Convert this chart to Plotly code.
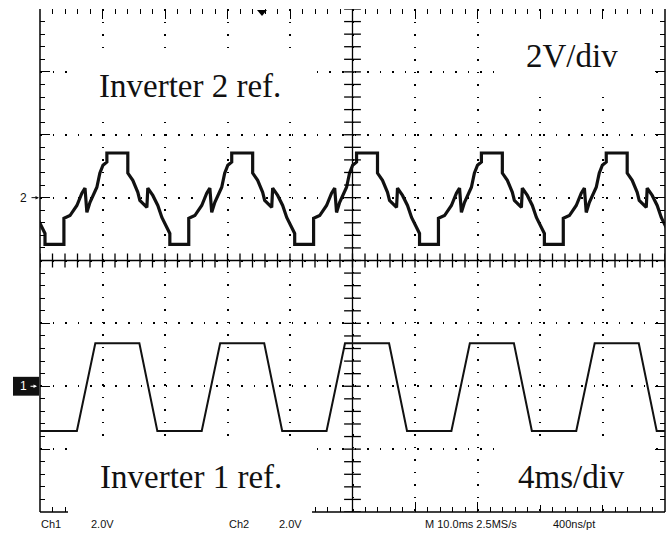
import plotly.graph_objects as go

# ---- scope settings: 4 ms/div (10 div), 2 V/div (8 div) ----
TIME_RANGE = [0, 40]
VOLT_RANGE = [-8, 8]
PERIOD_MS = 7.99

# ---- Ch1 (Inverter 1 ref.) one period, ms from start of rising edge / volts ----
ch1_t = [0.00, 1.18, 4.00, 5.15]
ch1_v = [-1.42, 1.37, 1.37, -1.42]
CH1_START = 2.36
CH1_OFFSET = -4.0

# ---- Ch2 (Inverter 2 ref.) one period, ms from start of bottom step / volts ----
ch2_t = [0.00, 1.21, 1.21, 1.60, 2.04, 2.36, 2.56, 2.68, 2.88, 3.32, 3.51, 3.71, 3.96,
         3.96, 5.30, 5.30, 5.62, 5.94, 6.07, 6.52, 6.58, 6.90, 7.22, 7.48, 7.80, 7.99]
ch2_v = [-1.49, -1.49, -0.66, -0.57, -0.25, 0.14, 0.30, -0.47, -0.15, 0.33, 0.78, 1.03, 1.13,
         1.42, 1.42, 0.78, 0.55, 0.17, -0.09, -0.31, 0.30, 0.07, -0.25, -0.63, -0.95, -1.14]
CH2_START = 0.32
CH2_OFFSET = 2.0

# ---- texts ----
bottom_labels = ["Ch1", "2.0V", "Ch2", "2.0V", "M 10.0ms 2.5MS/s", "400ns/pt"]
bottom_label_px = [51, 102, 239, 290, 471, 574]
big_labels = ["Inverter 2 ref.", "2V/div", "Inverter 1 ref.", "4ms/div"]
big_label_px = [(190, 86), (572, 56), (191, 477), (571, 477)]

W, H = 671, 533
L, R, T, B = 40, 6, 9, 21
PW, PH = W - L - R, H - T - B


def px_x(px):
    return (px - L) / PW


def px_y(py):
    return (H - B - py) / PH


def tile(t_list, v_list, start, offset):
    T_, V_ = [], []
    for k in range(-1, 6):
        T_ += [start + k * PERIOD_MS + t for t in t_list]
        V_ += [offset + v for v in v_list]
    return T_, V_


fig = go.Figure()

t1, y1 = tile(ch1_t, ch1_v, CH1_START, CH1_OFFSET)
t2, y2 = tile(ch2_t, ch2_v, CH2_START, CH2_OFFSET)
fig.add_trace(go.Scatter(x=t2, y=y2, mode="lines", line=dict(color="#111", width=3.2),
                         hoverinfo="skip", showlegend=False))
fig.add_trace(go.Scatter(x=t1, y=y1, mode="lines", line=dict(color="#111", width=2.0),
                         hoverinfo="skip", showlegend=False))
# invisible trace to activate the top/right tick axes
fig.add_trace(go.Scatter(x=[0], y=[0], xaxis="x2", yaxis="y2", mode="markers",
                         marker=dict(opacity=0), hoverinfo="skip", showlegend=False))

# centre cross tick marks
cx = [0.8 * k for k in range(51)]
fig.add_trace(go.Scatter(x=cx, y=[0] * len(cx), mode="markers",
                         marker=dict(symbol="line-ns", size=10, line=dict(color="black", width=1.3)),
                         hoverinfo="skip", showlegend=False))
cy = [-8 + 0.4 * k for k in range(41)]
fig.add_trace(go.Scatter(x=[20] * len(cy), y=cy, mode="markers",
                         marker=dict(symbol="line-ew", size=12, line=dict(color="black", width=1.3)),
                         hoverinfo="skip", showlegend=False))

shapes = []
# borders (no top line)
for x0, y0, x1, y1_ in [(0, 0, 0, 1), (1, 0, 1, 1), (0, 0, 1, 0)]:
    shapes.append(dict(type="line", xref="paper", yref="paper", x0=x0, y0=y0, x1=x1, y1=y1_,
                       line=dict(color="black", width=1.5), layer="below"))
# centre lines
shapes.append(dict(type="line", xref="x", yref="paper", x0=20, x1=20, y0=0, y1=1,
                   line=dict(color="black", width=1.3), layer="below"))
shapes.append(dict(type="line", xref="paper", yref="y", x0=0, x1=1, y0=0, y1=0,
                   line=dict(color="black", width=1.3), layer="below"))
# white boxes behind the big labels
for (xa, ya, xb, yb) in [(68, 52, 312, 115), (495, 20, 650, 92), (68, 442, 312, 518), (495, 442, 650, 505)]:
    shapes.append(dict(type="rect", xref="paper", yref="paper", x0=px_x(xa), x1=px_x(xb),
                       y0=px_y(yb), y1=px_y(ya), fillcolor="white", line=dict(width=0), layer="above"))
# ch1 ground marker box
shapes.append(dict(type="rect", xref="paper", yref="y", x0=px_x(13), x1=px_x(39),
                   y0=CH1_OFFSET - 0.30, y1=CH1_OFFSET + 0.30, fillcolor="#111",
                   line=dict(width=0), layer="above"))
# trigger marker
shapes.append(dict(type="path", xref="paper", yref="paper",
                   path=f"M {px_x(257)},{px_y(10)} L {px_x(267)},{px_y(10)} L {px_x(262)},{px_y(16)} Z",
                   fillcolor="black", line=dict(width=0), layer="above"))

ann = []
for txt, (xp, yp) in zip(big_labels, big_label_px):
    ann.append(dict(text=txt, xref="paper", yref="paper", x=px_x(xp), y=px_y(yp),
                    xanchor="center", yanchor="middle", showarrow=False,
                    font=dict(family="Liberation Serif", size=33, color="#111")))
for txt, xp in zip(bottom_labels, bottom_label_px):
    ann.append(dict(text=txt, xref="paper", yref="paper", x=px_x(xp), y=px_y(524),
                    xanchor="center", yanchor="middle", showarrow=False,
                    font=dict(family="Liberation Sans", size=11, color="#111")))
# ground markers
ann.append(dict(text="2", xref="paper", yref="y", x=px_x(23), y=CH2_OFFSET, xanchor="center",
                yanchor="middle", showarrow=False, font=dict(family="Liberation Sans", size=12, color="#111")))
ann.append(dict(text="", xref="paper", yref="y", x=px_x(39), y=CH2_OFFSET, ax=-9, ay=0,
                showarrow=True, arrowhead=2, arrowsize=0.7, arrowwidth=1, arrowcolor="#111"))
ann.append(dict(text="1", xref="paper", yref="y", x=px_x(23), y=CH1_OFFSET, xanchor="center",
                yanchor="middle", showarrow=False, font=dict(family="Liberation Sans", size=12, color="white")))
ann.append(dict(text="", xref="paper", yref="y", x=px_x(37), y=CH1_OFFSET, ax=-8, ay=0,
                showarrow=True, arrowhead=2, arrowsize=0.7, arrowwidth=1, arrowcolor="white"))

tick_common = dict(zeroline=False, showline=False, showticklabels=False, ticks="inside",
                   ticklen=10, tickwidth=1.3, tickcolor="black", fixedrange=True)
xminor = dict(dtick=0.8, tick0=0, ticks="inside", ticklen=5, tickwidth=1.3, tickcolor="black", showgrid=False)
yminor = dict(dtick=0.4, tick0=0, ticks="inside", ticklen=5, tickwidth=1.3, tickcolor="black", showgrid=False)

fig.update_layout(
    width=W, height=H, margin=dict(l=L, r=R, t=T, b=B),
    paper_bgcolor="white", plot_bgcolor="white",
    xaxis=dict(range=TIME_RANGE, dtick=4, tick0=0, showgrid=True, gridcolor="black", gridwidth=1.6,
               griddash="1.6px,10.9px", minor=xminor, **tick_common),
    yaxis=dict(range=VOLT_RANGE, dtick=2, tick0=0, showgrid=True, gridcolor="black", gridwidth=1.6,
               griddash="1.6px,10.98px", minor=yminor, **tick_common),
    xaxis2=dict(range=TIME_RANGE, dtick=4, tick0=0, overlaying="x", side="top", anchor="y2",
                showgrid=False, minor=xminor, **tick_common),
    yaxis2=dict(range=VOLT_RANGE, dtick=2, tick0=0, overlaying="y", side="right", anchor="x2",
                showgrid=False, minor=yminor, **tick_common),
    shapes=shapes, annotations=ann,
)

fig.write_html("out.html")
